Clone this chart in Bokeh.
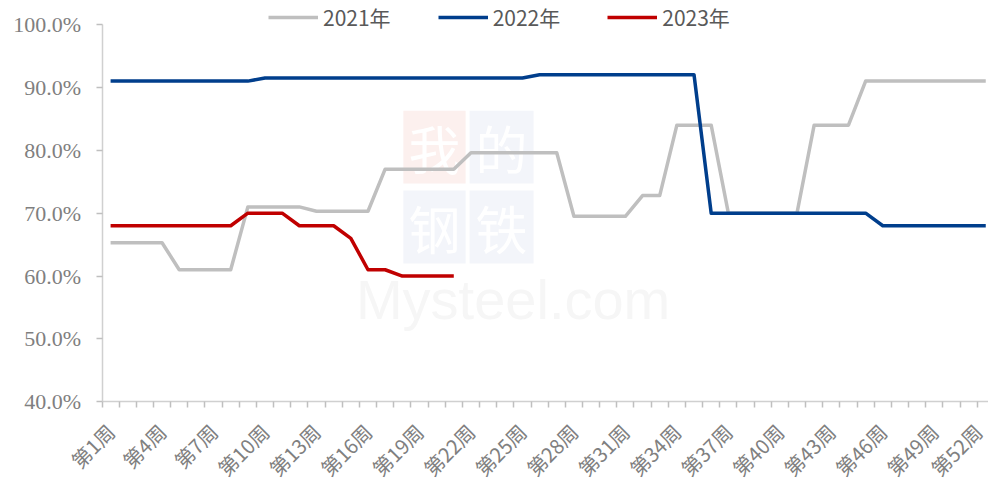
import math
from bokeh.plotting import figure
from bokeh.models import FixedTicker, Range1d, Legend, LegendItem, Label, BoxAnnotation
from bokeh.embed import file_html
from bokeh.resources import INLINE

# ---------------- data ----------------
weeks = list(range(1, 53))
week_labels = ["第%d周" % w for w in weeks]
label_weeks = [1, 4, 7, 10, 13, 16, 19, 22, 25, 28, 31, 34, 37, 40, 43, 46, 49, 52]

y_ticks = [40, 50, 60, 70, 80, 90, 100]
y_tick_labels = ["40.0%", "50.0%", "60.0%", "70.0%", "80.0%", "90.0%", "100.0%"]

s2021 = [65.3, 65.3, 65.3, 65.3, 61, 61, 61, 61, 71, 71, 71, 71, 70.3, 70.3, 70.3, 70.3,
         77, 77, 77, 77, 77, 79.6, 79.6, 79.6, 79.6, 79.6, 79.6, 69.5, 69.5, 69.5, 69.5,
         72.8, 72.8, 84, 84, 84, 70, 70, 70, 70, 70, 84, 84, 84,
         91, 91, 91, 91, 91, 91, 91, 91]
s2022 = [91, 91, 91, 91, 91, 91, 91, 91, 91,
         91.5, 91.5, 91.5, 91.5, 91.5, 91.5, 91.5, 91.5, 91.5, 91.5, 91.5, 91.5, 91.5, 91.5, 91.5, 91.5,
         92, 92, 92, 92, 92, 92, 92, 92, 92, 92,
         70, 70, 70, 70, 70, 70, 70, 70, 70, 70,
         68, 68, 68, 68, 68, 68, 68]
s2023 = [68, 68, 68, 68, 68, 68, 68, 68, 70, 70, 70, 68, 68, 68, 66, 61, 61, 60, 60, 60, 60]

series_names = ["2021年", "2022年", "2023年"]
series_colors = ["#BFBFBF", "#003E8C", "#C00000"]

# ---------------- figure ----------------
# the frame covers the whole canvas; both axes are drawn at fixed locations inside it
x_lo, x_hi = -5.415, 52.16
y_lo, y_hi = 27.17, 103.82
p = figure(width=988, height=482, output_backend="svg", toolbar_location=None,
           x_range=Range1d(x_lo, x_hi), y_range=Range1d(y_lo, y_hi),
           min_border_left=0, min_border_right=0, min_border_top=0, min_border_bottom=0)
p.outline_line_color = None
p.grid.visible = False
p.background_fill_color = "white"
p.border_fill_color = "white"

# watermark (faint)
wm_boxes = [(18.06, 21.69, 86.3, 74.7, "#FCF0EE", "我"),
            (21.92, 25.65, 86.3, 74.7, "#F3F5FA", "的"),
            (18.06, 21.69, 73.6, 62.0, "#F3F5FA", "钢"),
            (21.92, 25.65, 73.6, 62.0, "#F3F5FA", "铁")]
for l, r, t, b, c, ch in wm_boxes:
    p.add_layout(BoxAnnotation(left=l, right=r, top=t, bottom=b, fill_color=c, fill_alpha=1,
                               line_color=None, level="underlay"))
    p.add_layout(Label(x=(l + r) / 2, y=(t + b) / 2, text=ch, text_align="center",
                       text_baseline="middle", text_font="Noto Sans CJK SC",
                       text_font_size="52px", text_color="white", level="underlay"))
p.add_layout(Label(x=15.3, y=56.3, text="Mysteel.com", text_font="Liberation Sans",
                   text_font_size="56px", text_color="#F6F6F6", text_baseline="alphabetic",
                   level="underlay"))

renderers = []
for vals, c in zip([s2021, s2022, s2023], series_colors):
    r = p.line(weeks[:len(vals)], vals, line_color=c, line_width=3.5, line_join="round")
    renderers.append(r)

# x axis (drawn at y = 40)
p.xaxis.fixed_location = y_ticks[0]
p.xaxis.bounds = (0.5, x_hi)
p.xaxis.ticker = FixedTicker(ticks=label_weeks, minor_ticks=[w - 0.5 for w in weeks] + [52.5])
p.xaxis.major_label_overrides = {w: week_labels[w - 1] for w in label_weeks}
p.xaxis.major_label_orientation = math.pi / 4
p.xaxis.major_tick_line_color = None
p.xaxis.major_tick_out = 6
p.xaxis.major_tick_in = 0
p.xaxis.major_label_standoff = 20
p.xaxis.minor_tick_in = 0
p.xaxis.minor_tick_out = 6
p.xaxis.minor_tick_line_color = "#BFBFBF"
p.xaxis.minor_tick_line_width = 1.5
p.xaxis.axis_line_color = "#D0D0D0"
p.xaxis.axis_line_width = 1.5
p.xaxis.major_label_text_font = "Noto Sans CJK SC"
p.xaxis.major_label_text_font_size = "20px"
p.xaxis.major_label_text_color = "#808080"

# y axis (drawn at x = 0.5)
p.yaxis.fixed_location = 0.5
p.yaxis.bounds = (y_ticks[0], y_ticks[-1])
p.yaxis.ticker = FixedTicker(ticks=y_ticks)
p.yaxis.major_label_overrides = dict(zip(y_ticks, y_tick_labels))
p.yaxis.minor_tick_line_color = None
p.yaxis.major_tick_out = 6
p.yaxis.major_tick_in = 0
p.yaxis.major_tick_line_color = "#BFBFBF"
p.yaxis.major_tick_line_width = 1.5
p.yaxis.major_label_standoff = 15
p.yaxis.axis_line_color = "#D0D0D0"
p.yaxis.axis_line_width = 1.5
p.yaxis.major_label_text_font = "Liberation Serif"
p.yaxis.major_label_text_font_size = "22px"
p.yaxis.major_label_text_color = "#7F7F7F"

legend = Legend(items=[LegendItem(label=n, renderers=[r]) for n, r in zip(series_names, renderers)],
                orientation="horizontal", location=(268, 450), glyph_width=50, glyph_height=20,
                label_standoff=5, spacing=47, padding=0, margin=0, border_line_color=None,
                background_fill_alpha=0, label_text_font="Noto Sans CJK SC",
                label_text_font_size="21px", label_text_color="#595959")
p.add_layout(legend)

open("out.html", "w").write(file_html(p, INLINE))
